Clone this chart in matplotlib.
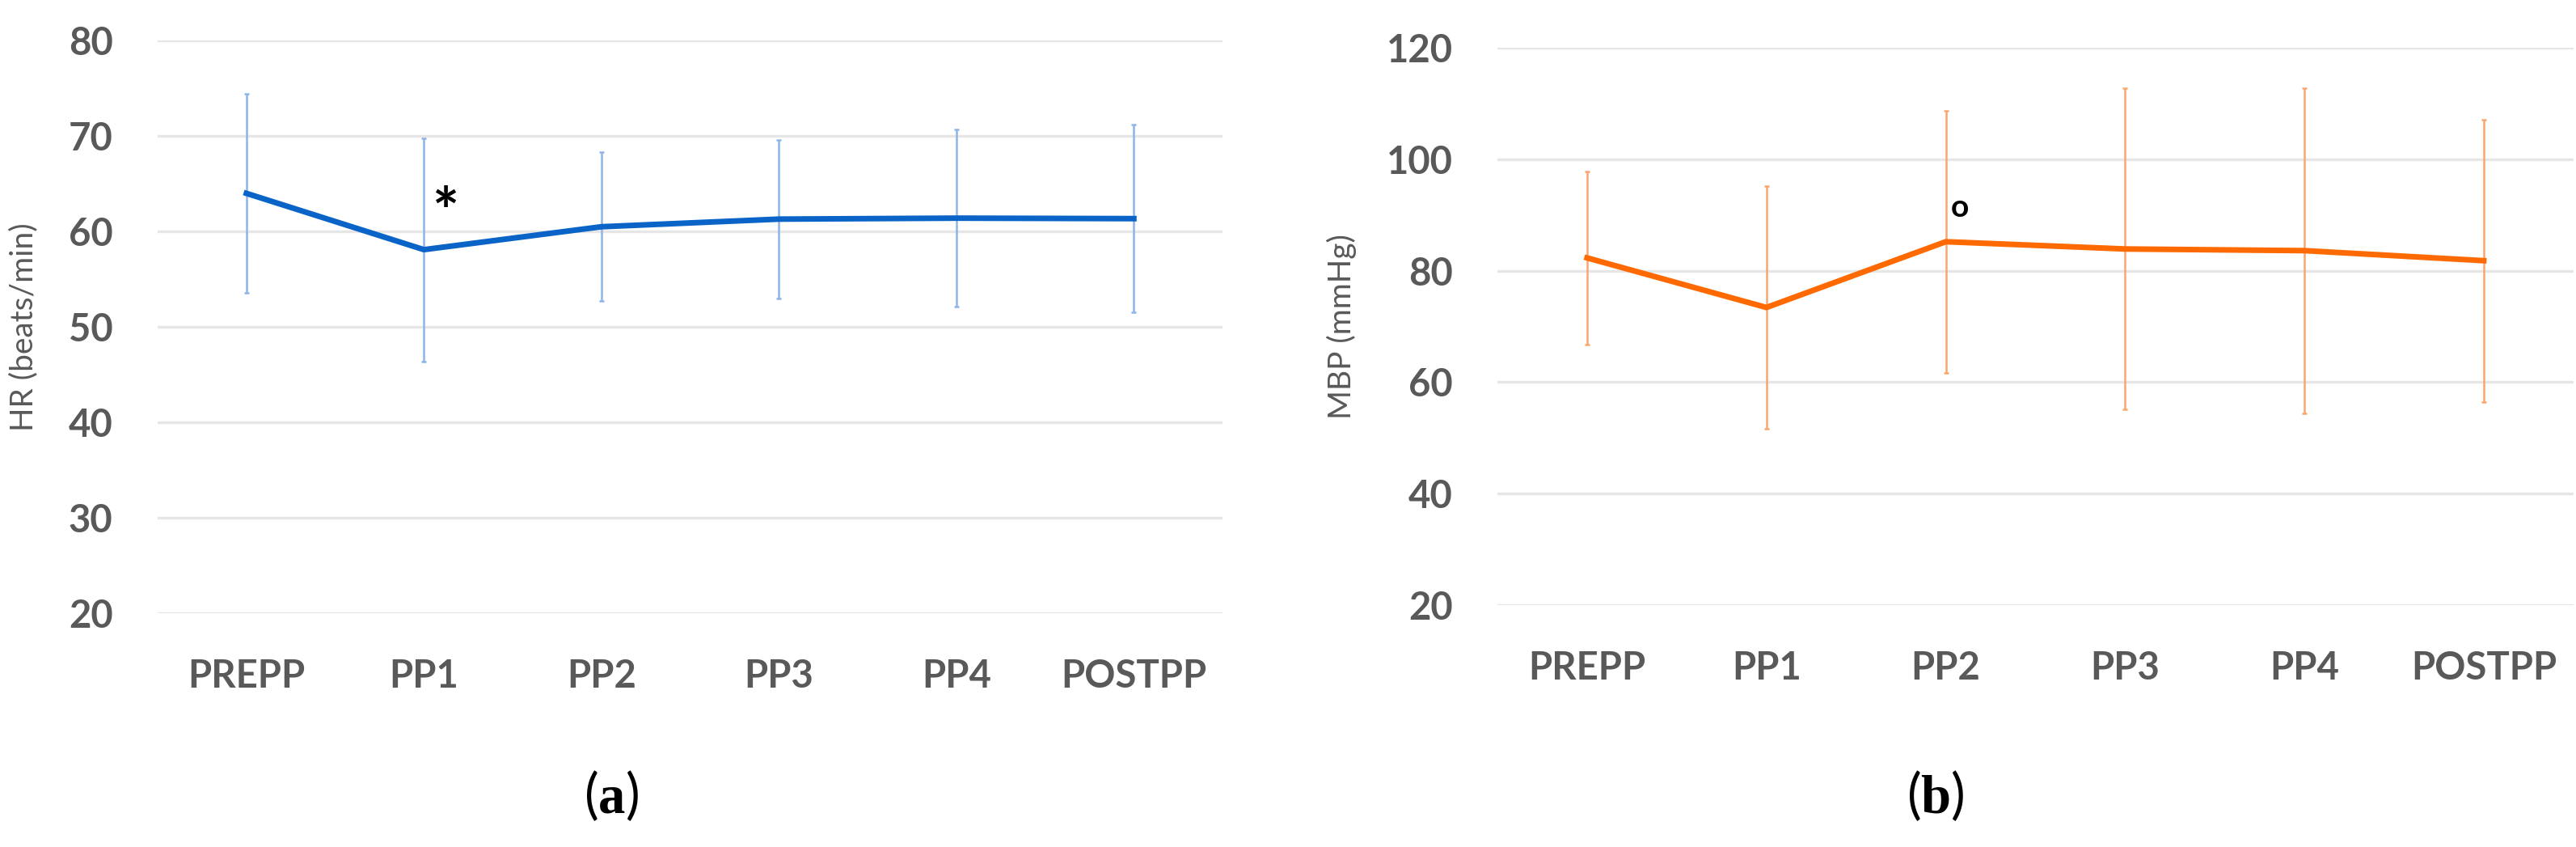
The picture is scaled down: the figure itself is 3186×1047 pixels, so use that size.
import matplotlib
matplotlib.use('Agg')
import matplotlib.pyplot as plt

plt.rcParams['font.family'] = ['Lato', 'DejaVu Sans']
plt.rcParams['mathtext.fontset'] = 'custom'
plt.rcParams['mathtext.rm'] = 'Liberation Serif'
plt.rcParams['mathtext.bf'] = 'Liberation Serif:bold'

phases = ['PREPP', 'PP1', 'PP2', 'PP3', 'PP4', 'POSTPP']

hr_mean = [64.0, 58.1, 60.5, 61.3, 61.4, 61.35]
hr_sd = [10.4, 11.7, 7.8, 8.3, 9.3, 9.85]

mbp_mean = [82.3, 73.4, 85.2, 83.9, 83.6, 81.8]
mbp_sd = [15.5, 21.8, 23.5, 28.8, 29.2, 25.3]

hr_ticks = [20, 30, 40, 50, 60, 70, 80]
mbp_ticks = [20, 40, 60, 80, 100, 120]

text_grey = '#595959'
grid_grey = '#E6E6E6'


def panel(ax, means, sds, line_color, err_color, ticks, ylabel):
    x = list(range(len(phases)))
    ax.errorbar(x, means, yerr=sds, fmt='none', ecolor=err_color,
                elinewidth=1.8, capsize=2, capthick=1.8, zorder=2)
    ax.plot(x, means, color=line_color, linewidth=5, zorder=3)

    ax.set_xlim(-0.5, len(phases) - 0.5)
    ax.set_ylim(ticks[0], ticks[-1])
    ax.set_yticks(ticks)
    ax.set_xticks(x)
    ax.set_xticklabels(phases)
    ax.grid(axis='y', color=grid_grey, linewidth=2.4, zorder=0)
    ax.set_axisbelow(True)
    for s in ax.spines.values():
        s.set_visible(False)
    ax.tick_params(length=0, labelsize=34, labelcolor=text_grey)
    ax.tick_params(axis='y', pad=40)
    ax.tick_params(axis='x', pad=40)
    for lab in ax.get_xticklabels() + ax.get_yticklabels():
        lab.set_fontweight('bold')
    ax.set_ylabel(ylabel, fontsize=28, color=text_grey)


fig = plt.figure(figsize=(31.86, 10.47), dpi=100)

ax1 = fig.add_axes([0.0612, 0.276, 0.4134, 0.676])
panel(ax1, hr_mean, hr_sd, '#0A64C8', '#8DB4E6', hr_ticks, 'HR (beats/min)')
ax1.yaxis.set_label_coords(-0.112, 0.5)
ax1.text(1.12, 61.6, '*', fontsize=56, fontweight='bold', ha='center', va='center', color='black')

ax2 = fig.add_axes([0.5813, 0.2856, 0.4177, 0.658])
panel(ax2, mbp_mean, mbp_sd, '#FF6A00', '#F9A66E', mbp_ticks, 'MBP (mmHg)')
ax2.yaxis.set_label_coords(-0.131, 0.5)
ax2.text(2.08, 91.3, 'o', fontsize=28, fontweight='bold', ha='center', va='center', color='black')

fig.text(756 / 3186, 1 - 984 / 1047, r'($\mathbf{a}$)', fontsize=48, ha='center', va='center', color='black')
fig.text(2394 / 3186, 1 - 984 / 1047, r'($\mathbf{b}$)', fontsize=48, ha='center', va='center', color='black')

fig.savefig('out.png', dpi=100, facecolor='white')
